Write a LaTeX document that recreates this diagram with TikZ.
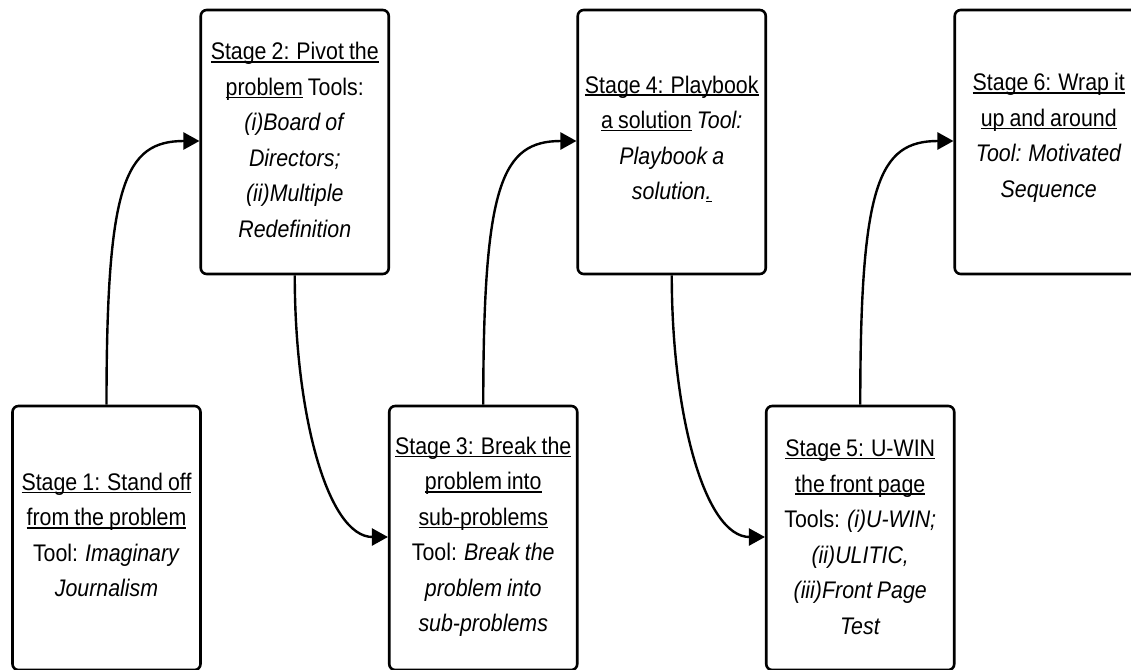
\documentclass[tikz,border=0pt]{standalone}
\usepackage{fontspec}
\setmainfont{Liberation Sans}[FakeStretch=0.89, WordSpace=0.85]
\usetikzlibrary{arrows.meta}
% underline at a fixed depth, crossing descenders
\newcommand\stul[1]{\leavevmode\setbox0\hbox{#1}\rlap{\rule[-2.8pt]{\wd0}{1.6pt}}\box0\relax}

\begin{document}
\begin{tikzpicture}[x=1pt, y=-1pt,
  stagebox/.style={draw, line width=2.6pt, rounded corners=6pt,
    minimum width=188pt, minimum height=264pt, inner sep=0pt},
  stagetext/.style={inner sep=0pt, align=center,
    font=\fontsize{24}{35.5}\selectfont},
  flow/.style={line width=2.4pt, -{Triangle[length=16pt,width=17pt]}}]

\useasboundingbox (0,0) rectangle (1131,669);
\fill[white] (0,0) rectangle (1131,669);
\clip (0,0) rectangle (1131,669);

% frames
\node[stagebox] (s1) at (106.5,538) {};
\node[stagebox] (s2) at (294.75,142) {};
\node[stagebox] (s3) at (483.25,538) {};
\node[stagebox] (s4) at (671.75,142) {};
\node[stagebox] (s5) at (860.25,538) {};
\node[stagebox] (s6) at (1048.75,142) {};

% lower row texts
\node[stagetext] (t1) at (106.5,535)
  {\stul{Stage 1: Stand off}\\\stul{from the problem}\\Tool: \textit{Imaginary}\\\textit{Journalism}};
\node[stagetext] (t3) at (483.25,537)
  {\stul{Stage 3: Break the}\\\stul{problem into}\\\stul{sub-problems}\\Tool: \textit{Break the}\\\textit{problem into}\\\textit{sub-problems}};
\node[stagetext] (t5) at (860.25,537)
  {\stul{Stage 5: U-WIN}\\\stul{the front page}\\Tools: \textit{(i)U-WIN;}\\\textit{(ii)ULITIC,}\\\textit{(iii)Front Page}\\\textit{Test}};

% upper row texts
\node[stagetext] (t2) at (294.75,140)
  {\stul{Stage 2: Pivot the}\\\stul{problem} Tools:\\\textit{(i)Board of}\\\textit{Directors;}\\\textit{(ii)Multiple}\\\textit{Redefinition}};
\node[stagetext] (t4) at (671.75,139)
  {\stul{Stage 4: Playbook}\\\stul{a solution} \textit{Tool:}\\\textit{Playbook a}\\\textit{solution}\stul{\textit{.}}};
\node[stagetext] (t6) at (1048.75,138)
  {\stul{Stage 6: Wrap it}\\\stul{up and around}\\\textit{Tool: Motivated}\\\textit{Sequence}};

% connectors: up from a lower box into the next upper box, down from an upper box into the next lower box
\draw[flow] (s1.north) .. controls +(0,-220) and +(-75,0) .. ([yshift=1pt]s2.west);
\draw[flow] (s2.south) .. controls +(0,140) and +(-60,0) .. ([yshift=1pt]s3.west);
\draw[flow] (s3.north) .. controls +(0,-220) and +(-75,0) .. ([yshift=1pt]s4.west);
\draw[flow] (s4.south) .. controls +(0,140) and +(-60,0) .. ([yshift=1pt]s5.west);
\draw[flow] (s5.north) .. controls +(0,-220) and +(-75,0) .. ([yshift=1pt]s6.west);
\end{tikzpicture}
\end{document}
